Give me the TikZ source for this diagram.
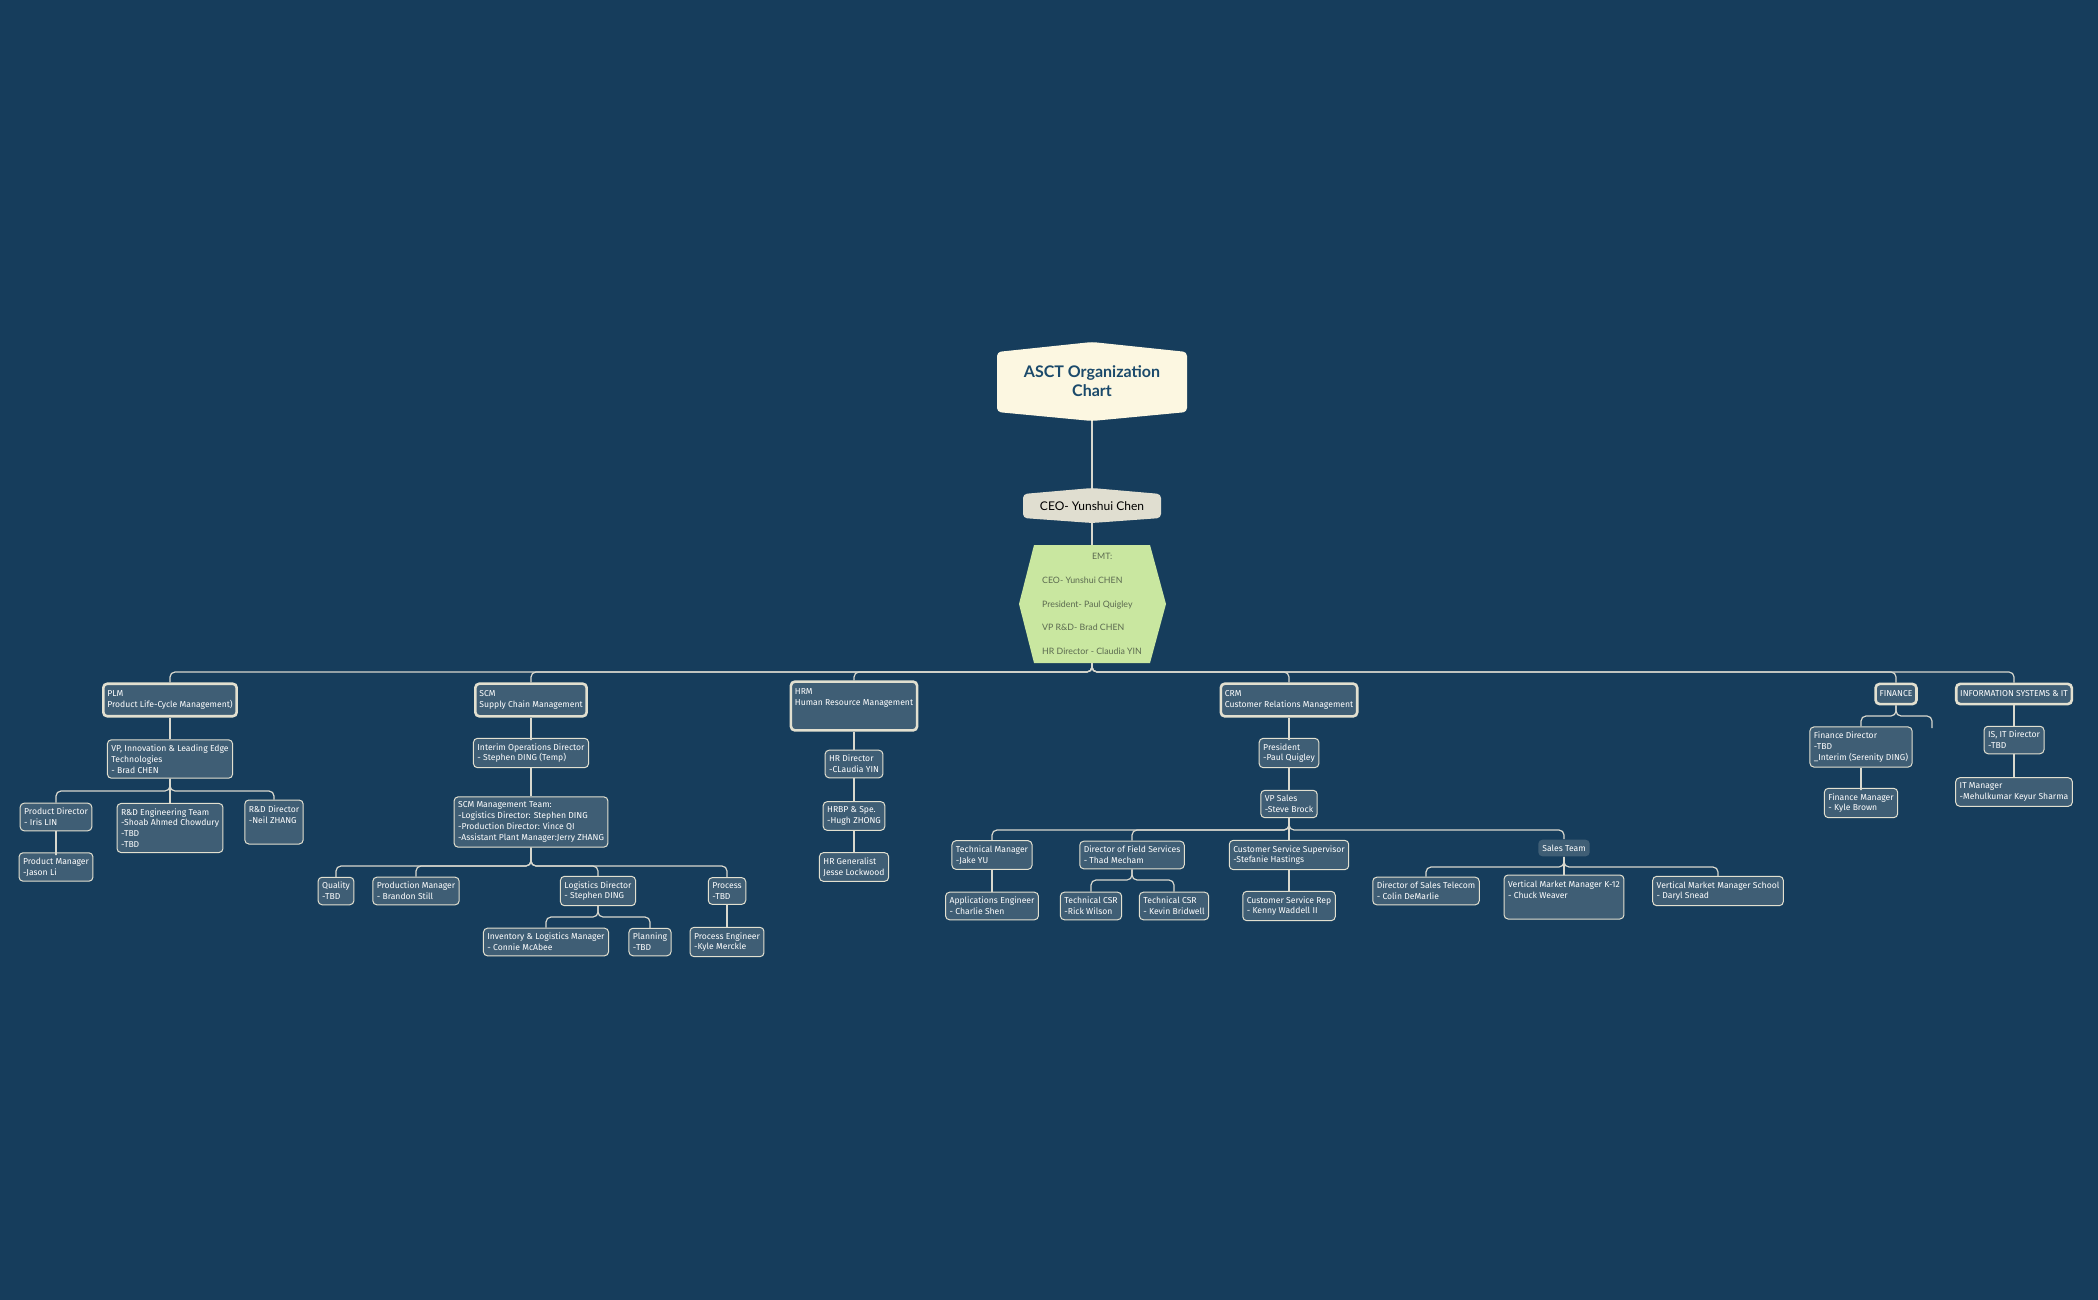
\documentclass[tikz,border=0pt]{standalone}
\usepackage{fontspec}
\setmainfont{Fira Sans}
\newfontfamily\titlefont{Lato}
\definecolor{bgblue}{HTML}{163D5C}
\definecolor{boxfill}{HTML}{3F5E75}
\definecolor{boxline}{HTML}{E2E0D0}
\definecolor{titlefill}{HTML}{FCF7E1}
\definecolor{titletext}{HTML}{1B4A6B}
\definecolor{ceofill}{HTML}{E0DED0}
\definecolor{emtfill}{HTML}{C9E7A0}
\definecolor{emttext}{HTML}{5B6A50}
\definecolor{linkcol}{HTML}{D8D8CE}
\tikzset{
  x=0.5pt, y=-0.5pt,
  box/.style={draw=boxline, fill=boxfill, text=white, rounded corners=2pt,
    line width=0.5pt, align=left, inner xsep=2pt, inner ysep=2.5pt,
    font=\fontsize{4.3}{5.4}\selectfont},
  head/.style={box, line width=1.3pt, inner ysep=3.5pt},
  plainbox/.style={box, draw=none},
  link/.style={draw=linkcol, line width=0.6pt, rounded corners=2.5pt}
}
\newcommand{\branch}[3]{%
  \coordinate (bus) at (0,#3);
  \draw[link] (#1.south) -- (#1.south |- bus) -| (#2.north);}
\begin{document}
\begin{tikzpicture}
  \fill[bgblue] (0,0) rectangle (2098,1300);
  \useasboundingbox (0,0) rectangle (2098,1300);
  % top
  \fill[titlefill, rounded corners=2pt] (997,352) -- (1092,342) -- (1187,352) -- (1187,412) -- (1092,421) -- (997,412) -- cycle;
  \node[text=titletext, align=center, font=\titlefont\bfseries\fontsize{8}{9.5}\selectfont] (title) at (1092,381) {ASCT Organization\\Chart};
  \fill[ceofill, rounded corners=2pt] (1023,494) -- (1092,488) -- (1161,494) -- (1161,518) -- (1092,523) -- (1023,518) -- cycle;
  \node[font=\titlefont\fontsize{6}{7}\selectfont] (ceo) at (1092,506) {CEO- Yunshui Chen};
  \fill[emtfill] (1034,545) -- (1150,545) -- (1166,604) -- (1150,663) -- (1034,663) -- (1019,604) -- cycle;
  \node[text=emttext, align=left, font=\titlefont\fontsize{4.4}{11.8}\selectfont, minimum height=59pt, minimum width=73pt, inner sep=0pt] (emt) at (1092,604)
    {\hspace*{25pt}EMT:\\CEO- Yunshui CHEN\\President- Paul Quigley\\VP R\&D- Brad CHEN\\HR Director - Claudia YIN};
  \draw[link] (1092,421) -- (1092,488);
  \draw[link] (1092,523) -- (1092,545);
  % departments
  \node[head] (plm) at (170,700) {PLM\\Product Life-Cycle Management)};
  \node[head] (scm) at (531,700) {SCM\\Supply Chain Management};
  \node[head, minimum height=24pt, text depth=9pt] (hrm) at (854,706) {HRM\\Human Resource Management};
  \node[head] (crm) at (1289,700) {CRM\\Customer Relations Management};
  \node[head] (fin) at (1896,694) {FINANCE};
  \node[head] (isit) at (2014,694) {INFORMATION SYSTEMS \& IT};
  \foreach \d in {plm,scm,hrm,crm,fin,isit} {\branch{emt}{\d}{672}}
  % PLM
  \node[box] (vp) at (170,759) {VP, Innovation \& Leading Edge\\Technologies\\- Brad CHEN};
  \node[box] (pdir) at (56,817) {Product Director\\- Iris LIN};
  \node[box] (rdteam) at (170,828) {R\&D Engineering Team\\-Shoab Ahmed Chowdury\\-TBD\\-TBD};
  \node[box, minimum height=22pt, text depth=7pt] (rddir) at (274,822) {R\&D Director\\-Neil ZHANG};
  \node[box] (pman) at (56,867) {Product Manager\\-Jason Li};
  \branch{plm}{vp}{740}
  \foreach \c in {pdir,rdteam,rddir} {\branch{vp}{\c}{791}}
  \branch{pdir}{pman}{850}
  % SCM
  \node[box] (iod) at (531,753) {Interim Operations Director\\- Stephen DING (Temp)};
  \node[box] (scmteam) at (531,822) {SCM Management Team:\\-Logistics Director: Stephen DING\\-Production Director: Vince QI\\-Assistant Plant Manager:Jerry ZHANG};
  \node[box] (qual) at (336,891) {Quality\\-TBD};
  \node[box] (prodman) at (416,891) {Production Manager\\- Brandon Still};
  \node[box] (logdir) at (598,891) {Logistics Director\\- Stephen DING};
  \node[box] (proc) at (727,891) {Process\\-TBD};
  \node[box] (invman) at (546,942) {Inventory \& Logistics Manager\\- Connie McAbee};
  \node[box] (plan) at (650,942) {Planning\\-TBD};
  \node[box] (proceng) at (727,942) {Process Engineer\\-Kyle Merckle};
  \branch{scm}{iod}{735}
  \branch{iod}{scmteam}{780}
  \foreach \c in {qual,prodman,logdir,proc} {\branch{scmteam}{\c}{866}}
  \foreach \c in {invman,plan} {\branch{logdir}{\c}{917}}
  \branch{proc}{proceng}{920}
  % HRM
  \node[box] (hrdir) at (854,764) {HR Director\\-CLaudia YIN};
  \node[box] (hrbp) at (854,816) {HRBP \& Spe.\\-Hugh ZHONG};
  \node[box] (hrgen) at (854,867) {HR Generalist\\Jesse Lockwood};
  \branch{hrm}{hrdir}{740}
  \branch{hrdir}{hrbp}{790}
  \branch{hrbp}{hrgen}{840}
  % CRM
  \node[box] (pres) at (1289,753) {President\\-Paul Quigley};
  \node[box] (vps) at (1289,804) {VP Sales\\-Steve Brock};
  \node[box] (techman) at (992,855) {Technical Manager\\-Jake YU};
  \node[box] (dfs) at (1132,855) {Director of Field Services\\- Thad Mecham};
  \node[box] (css) at (1289,855) {Customer Service Supervisor\\-Stefanie Hastings};
  \node[plainbox] (sales) at (1564,848) {Sales Team};
  \node[box] (appeng) at (992,906) {Applications Engineer\\- Charlie Shen};
  \node[box] (tcsr1) at (1091,906) {Technical CSR\\-Rick Wilson};
  \node[box] (tcsr2) at (1174,906) {Technical CSR\\- Kevin Bridwell};
  \node[box] (csrep) at (1289,906) {Customer Service Rep\\- Kenny Waddell II};
  \node[box] (dst) at (1426,891) {Director of Sales Telecom\\- Colin DeMarlie};
  \node[box, minimum height=22pt, text depth=7pt] (k12) at (1564,897) {Vertical Market Manager K-12\\- Chuck Weaver};
  \node[box] (vmms) at (1718,891) {Vertical Market Manager School\\- Daryl Snead};
  \branch{crm}{pres}{735}
  \branch{pres}{vps}{780}
  \foreach \c in {techman,dfs,css,sales} {\branch{vps}{\c}{830}}
  \branch{techman}{appeng}{880}
  \foreach \c in {tcsr1,tcsr2} {\branch{dfs}{\c}{880}}
  \branch{css}{csrep}{880}
  \foreach \c in {dst,k12,vmms} {\branch{sales}{\c}{867}}
  % FINANCE
  \node[box] (findir) at (1861,747) {Finance Director\\-TBD\\\_Interim (Serenity DING)};
  \node[box] (finman) at (1861,803) {Finance Manager\\- Kyle Brown};
  \coordinate (fstub) at (1932,728);
  \branch{fin}{findir}{716}
  \branch{fin}{fstub}{716}
  \branch{findir}{finman}{785}
  % IS & IT
  \node[box] (isdir) at (2014,740) {IS, IT Director\\-TBD};
  \node[box] (itman) at (2014,792) {IT Manager\\-Mehulkumar Keyur Sharma};
  \branch{isit}{isdir}{716}
  \branch{isdir}{itman}{770}
\end{tikzpicture}
\end{document}
